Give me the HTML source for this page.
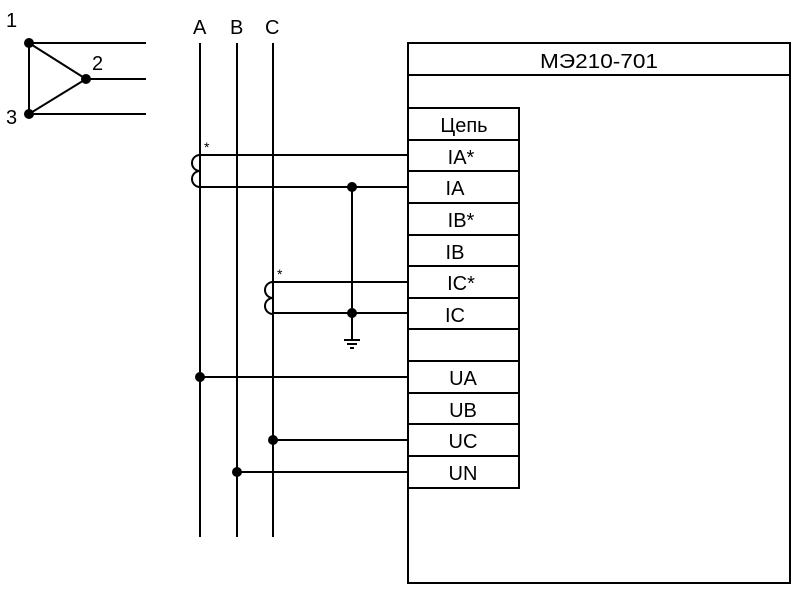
<!DOCTYPE html><html><head><style>body{margin:0;background:#fff}svg{display:block}text{font-family:"Liberation Sans",sans-serif;fill:#000}</style></head><body>
<svg width="800" height="594" viewBox="0 0 800 594" xmlns="http://www.w3.org/2000/svg">
<g stroke="#000" stroke-width="2" fill="none">
<line x1="29" y1="43" x2="146" y2="43"/><line x1="86" y1="79" x2="146" y2="79"/><line x1="29" y1="114" x2="146" y2="114"/>
<polyline points="29,43 86,79 29,114 29,43"/>
<line x1="200" y1="43" x2="200" y2="537"/><line x1="237" y1="43" x2="237" y2="537"/><line x1="273" y1="43" x2="273" y2="537"/>
<rect x="408" y="43" width="382" height="540"/><line x1="408" y1="75" x2="790" y2="75"/>
<rect x="408" y="108" width="111" height="380"/>
<path d="M408 140H519M408 171H519M408 203H519M408 235H519M408 266H519M408 298H519M408 329H519M408 361H519M408 393H519M408 424H519M408 456H519"/>
<path d="M200 155H408M200 187H408M200 155a8 8 0 0 0 0 16a8 8 0 0 0 0 16"/>
<path d="M273 282H408M273 313H408M273 282a8 8 0 0 0 0 16a8 8 0 0 0 0 16"/>
<path d="M352 187V340M344 340H360M347 344H357M350 348H354" />
<path d="M200 377H408M273 440H408M237 472H408"/>
</g>
<g fill="#000">
<circle cx="29" cy="43" r="5"/><circle cx="86" cy="79" r="5"/><circle cx="29" cy="114" r="5"/>
<circle cx="352" cy="187" r="5"/><circle cx="352" cy="313" r="5"/>
<circle cx="200" cy="377" r="5"/><circle cx="273" cy="440" r="5"/><circle cx="237" cy="472" r="5"/>
</g>
<g font-size="20">
<text x="6" y="27">1</text><text x="92" y="70">2</text><text x="6" y="124">3</text>
<text x="193" y="34">A</text><text x="230" y="34">B</text><text x="265" y="34">C</text>
</g>
<text x="204" y="152" font-size="14">*</text><text x="277" y="279" font-size="14">*</text>
<g font-size="20" text-anchor="middle">
<text x="599" y="68" textLength="118" lengthAdjust="spacingAndGlyphs">МЭ210-701</text>
<text x="464" y="132">Цепь</text><text x="461" y="164">IA*</text><text x="455" y="195">IA</text>
<text x="461" y="227">IB*</text><text x="455" y="259">IB</text><text x="461" y="290">IC*</text><text x="455" y="322">IC</text>
<text x="463" y="385">UA</text><text x="463" y="417">UB</text><text x="463" y="448">UC</text><text x="463" y="480">UN</text>
</g>
</svg></body></html>
